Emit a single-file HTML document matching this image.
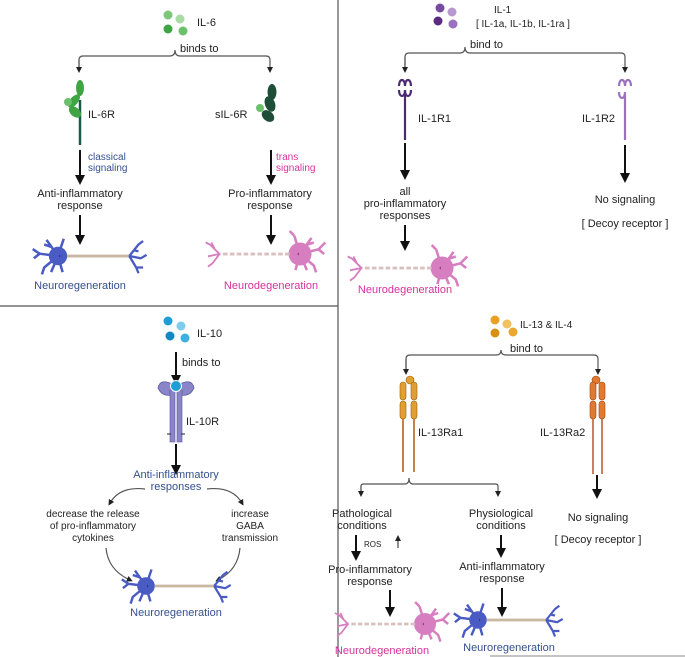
<!DOCTYPE html>
<html><head><meta charset="utf-8"><style>
html,body{margin:0;padding:0;background:#fff}
svg{display:block}
text{font-family:"Liberation Sans",sans-serif;font-size:11px;fill:#222}
.c{text-anchor:middle}
.b{fill:#34508f}.p{fill:#d6329a}
.l{stroke:#555;stroke-width:1.2;fill:none}
.a{stroke:#111;stroke-width:2;fill:none}
</style></head><body>
<svg width="685" height="657" viewBox="0 0 685 657" xmlns="http://www.w3.org/2000/svg">
<defs>
<marker id="m" markerWidth="6" markerHeight="6" refX="3" refY="3" orient="auto" markerUnits="userSpaceOnUse"><path d="M0,0 L6,3 L0,6z" fill="#222"/></marker>
<marker id="M" markerWidth="10" markerHeight="10" refX="5" refY="5" orient="auto" markerUnits="userSpaceOnUse"><path d="M0,0 L10,5 L0,10z" fill="#111"/></marker>
<g id="nb">
<circle cx="0" cy="0" r="8" fill="#4a5bc4"/><circle cx="0" cy="0" r="2" fill="#1b2266"/>
<path d="M0,0 l-10,-14 M-6,-8 l-6,-2 M0,0 l5,-15 M0,0 l-16,-2 l-6,-4 M-16,-2 l-5,4 M0,0 l-12,10 l-2,6 M0,0 l4,14 M0,0 l-6,14" stroke="#4a5bc4" stroke-width="2.2" fill="none"/>
<path d="M8,0 H62" stroke="#c8b8a0" stroke-width="2.5"/>
<path d="M62,0 l8,-10 l4,-3 M66,-5 l4,1 M62,0 l10,2 l5,-3 M62,0 l6,10 l2,5 M68,10 l6,0" stroke="#4a5bc4" stroke-width="2" fill="none"/>
</g>
<g id="np">
<circle cx="0" cy="0" r="10" fill="#d77ec0"/><circle cx="0" cy="0" r="2" fill="#5a1040"/>
<path d="M0,0 l10,-14 M6,-8 l6,-2 M0,0 l-5,-16 M-5,-16 l-4,-4 M0,0 l16,-4 l6,-6 M16,-4 l5,4 M0,0 l12,10 l2,6 M0,0 l-4,14 M0,0 l6,14" stroke="#d77ec0" stroke-width="2.2" fill="none"/>
<path d="M-9,0 H-70" stroke="#d8c0c0" stroke-width="2.5" stroke-dasharray="4 2"/>
<path d="M-70,0 l-8,-8 l-4,-2 M-74,-4 l-3,-6 M-70,0 l-10,2 M-70,0 l-6,8 l-4,3" stroke="#d77ec0" stroke-width="1.6" fill="none"/>
</g>
</defs>
<path d="M338,0 V657" stroke="#555" stroke-width="1.2"/>
<path d="M0,306 H338" stroke="#555" stroke-width="1.2"/>
<path d="M490,656 H685" stroke="#888" stroke-width="1"/>

<!-- TOP LEFT IL-6 -->
<circle cx="168" cy="15" r="4.5" fill="#7cc77a"/><circle cx="180" cy="19" r="4.5" fill="#a8dba5"/>
<circle cx="168" cy="29" r="4.5" fill="#3ea444"/><circle cx="183" cy="31" r="4.5" fill="#6cc06c"/>
<text x="197" y="26">IL-6</text>
<text x="180" y="52">binds to</text>
<path class="l" d="M79,70 V60 Q79,56 83,56 H170 Q175,56 175,50 Q175,56 180,56 H266 Q270,56 270,60 V70" marker-end="url(#m)"/>
<path class="l" d="M79,60 V70" marker-end="url(#m)"/>
<path d="M80,100 V145" stroke="#1d5a4a" stroke-width="2.5"/>
<ellipse cx="80" cy="88" rx="4" ry="8" fill="#3ea444"/><ellipse cx="74" cy="101" rx="4" ry="8" fill="#3ea444" transform="rotate(40 74 101)"/><ellipse cx="75" cy="112" rx="4.5" ry="7" fill="#3ea444" transform="rotate(-50 75 112)"/><circle cx="68" cy="102" r="4" fill="#6cc06c"/>
<text x="88" y="118">IL-6R</text>
<ellipse cx="272" cy="92" rx="4.5" ry="8" fill="#1e4d38"/><ellipse cx="270" cy="104" rx="5" ry="8" fill="#1e4d38" transform="rotate(-20 270 104)"/><ellipse cx="268" cy="116" rx="5" ry="7" fill="#1e4d38" transform="rotate(-50 268 116)"/><circle cx="260" cy="108" r="4" fill="#6cc06c"/>
<text x="215" y="118">sIL-6R</text>
<path class="a" d="M80,150 V180" marker-end="url(#M)"/>
<text x="88" y="160" class="b" style="font-size:10px">classical</text><text x="88" y="171" class="b" style="font-size:10px">signaling</text>
<text x="80" y="197" class="c">Anti-inflammatory</text><text x="80" y="209" class="c">response</text>
<path class="a" d="M80,215 V240" marker-end="url(#M)"/>
<use href="#nb" transform="translate(58,256) scale(1.15)"/>
<text x="80" y="289" class="c b">Neuroregeneration</text>
<path class="a" d="M271,150 V180" marker-end="url(#M)"/>
<text x="276" y="160" class="p" style="font-size:10px">trans</text><text x="276" y="171" class="p" style="font-size:10px">signaling</text>
<text x="270" y="197" class="c">Pro-inflammatory</text><text x="270" y="209" class="c">response</text>
<path class="a" d="M271,215 V240" marker-end="url(#M)"/>
<use href="#np" transform="translate(300,254) scale(1.15)"/>
<text x="271" y="289" class="c p">Neurodegeneration</text>

<!-- TOP RIGHT IL-1 -->
<circle cx="440" cy="8" r="4.5" fill="#7a4aa0"/><circle cx="452" cy="12" r="4.5" fill="#b898d0"/>
<circle cx="438" cy="21" r="4.5" fill="#5a2a80"/><circle cx="453" cy="24" r="4.5" fill="#9a70c0"/>
<text x="494" y="13" style="font-size:10px">IL-1</text>
<text x="476" y="27" style="font-size:10px">[ IL-1a, IL-1b, IL-1ra ]</text>
<text x="470" y="48">bind to</text>
<path class="l" d="M405,70 V57 Q405,53 409,53 H460 Q465,53 465,47 Q465,53 470,53 H621 Q625,53 625,57 V70" marker-end="url(#m)"/>
<path class="l" d="M405,57 V70" marker-end="url(#m)"/>
<path d="M399,86 c0,-8 6,-8 6,0 c0,-8 6,-8 6,0 M399,90 c0,8 6,8 6,0 c0,8 6,8 6,0 M405,95 V140" stroke="#4a2a70" stroke-width="2.2" fill="none"/>
<text x="418" y="122">IL-1R1</text>
<path d="M619,86 c0,-8 6,-8 6,0 c0,-8 6,-8 6,0 M619,92 c0,8 6,8 6,0 M625,95 V140" stroke="#9a70c0" stroke-width="2.2" fill="none"/>
<text x="582" y="122">IL-1R2</text>
<path class="a" d="M405,143 V175" marker-end="url(#M)"/>
<text x="405" y="195" class="c">all</text><text x="405" y="207" class="c">pro-inflammatory</text><text x="405" y="219" class="c">responses</text>
<path class="a" d="M405,225 V246" marker-end="url(#M)"/>
<use href="#np" transform="translate(442,268) scale(1.15)"/>
<text x="405" y="293" class="c p">Neurodegeneration</text>
<path class="a" d="M625,145 V178" marker-end="url(#M)"/>
<text x="625" y="203" class="c">No signaling</text>
<text x="625" y="227" class="c">[ Decoy receptor ]</text>

<!-- BOTTOM LEFT IL-10 -->
<circle cx="168" cy="321" r="4.5" fill="#1f9ed6"/><circle cx="181" cy="326" r="4.5" fill="#7fcbeb"/>
<circle cx="170" cy="336" r="4.5" fill="#1488c4"/><circle cx="185" cy="338" r="4.5" fill="#3db0e0"/>
<text x="197" y="337">IL-10</text>
<path class="a" d="M176,352 V380" marker-end="url(#M)"/>
<text x="182" y="366">binds to</text>
<path d="M158,388 Q160,378 172,384 L172,395 Q162,397 158,388z M194,388 Q192,378 180,384 L180,395 Q190,397 194,388z" fill="#8a85c8" stroke="#5a55a0" stroke-width="0.8"/>
<rect x="170" y="390" width="5" height="52" fill="#8a85c8" stroke="#5a55a0" stroke-width="0.6"/>
<rect x="177" y="390" width="5" height="52" fill="#8a85c8" stroke="#5a55a0" stroke-width="0.6"/>
<circle cx="176" cy="386" r="5.5" fill="#1f9ed6" stroke="#fff" stroke-width="1"/>
<path d="M167,434 h4 M181,434 h4" stroke="#222"/>
<text x="186" y="425">IL-10R</text>
<path class="a" d="M176,444 V470" marker-end="url(#M)"/>
<text x="176" y="478" class="c b">Anti-inflammatory</text><text x="176" y="490" class="c b">responses</text>
<path class="l" d="M145,489 Q120,486 110,503" marker-end="url(#m)"/>
<path class="l" d="M207,489 Q232,486 242,503" marker-end="url(#m)"/>
<text x="93" y="517" class="c" style="font-size:10px">decrease the release</text>
<text x="93" y="529" class="c" style="font-size:10px">of pro-inflammatory</text>
<text x="93" y="541" class="c" style="font-size:10px">cytokines</text>
<text x="250" y="517" class="c" style="font-size:10px">increase</text>
<text x="250" y="529" class="c" style="font-size:10px">GABA</text>
<text x="250" y="541" class="c" style="font-size:10px">transmission</text>
<path class="l" d="M106,548 Q108,570 130,580" marker-end="url(#m)"/>
<path class="l" d="M240,548 Q238,570 218,580" marker-end="url(#m)"/>
<use href="#nb" transform="translate(146,586) scale(1.1)"/>
<text x="176" y="616" class="c b">Neuroregeneration</text>

<!-- BOTTOM RIGHT IL-13 -->
<circle cx="495" cy="320" r="4.5" fill="#e8a020"/><circle cx="507" cy="324" r="4.5" fill="#f2c060"/>
<circle cx="495" cy="333" r="4.5" fill="#d89010"/><circle cx="513" cy="332" r="4.5" fill="#e8a830"/>
<text x="520" y="328" style="font-size:10px">IL-13 &amp; IL-4</text>
<text x="510" y="352">bind to</text>
<path class="l" d="M406,372 V359 Q406,355 410,355 H496 Q501,355 501,350 Q501,355 506,355 H594 Q598,355 598,359 V372" marker-end="url(#m)"/>
<path class="l" d="M406,359 V372" marker-end="url(#m)"/>
<g fill="#e0a030" stroke="#9a6010" stroke-width="0.6">
<circle cx="410" cy="380" r="4"/>
<rect x="400" y="382" width="6" height="18" rx="3"/><rect x="411" y="382" width="6" height="18" rx="3"/>
<rect x="400" y="401" width="6" height="18" rx="3"/><rect x="411" y="401" width="6" height="18" rx="3"/>
</g>
<path d="M403,419 V472 M414,419 V472" stroke="#b86020" stroke-width="1.6"/>
<text x="418" y="436">IL-13Ra1</text>
<g fill="#e07a30" stroke="#a04810" stroke-width="0.6">
<circle cx="596" cy="380" r="4"/>
<rect x="590" y="382" width="6" height="18" rx="3"/><rect x="599" y="382" width="6" height="18" rx="3"/>
<rect x="590" y="401" width="6" height="18" rx="3"/><rect x="599" y="401" width="6" height="18" rx="3"/>
</g>
<path d="M593,419 V474 M602,419 V474" stroke="#c06030" stroke-width="1.6"/>
<text x="540" y="436">IL-13Ra2</text>
<path class="l" d="M361,494 V486 Q361,484 364,484 H405 Q409,484 409,478 Q409,484 413,484 H495 Q498,484 498,486 V494" marker-end="url(#m)"/>
<path class="l" d="M361,486 V494" marker-end="url(#m)"/>
<text x="362" y="517" class="c">Pathological</text><text x="362" y="529" class="c">conditions</text>
<text x="501" y="517" class="c">Physiological</text><text x="501" y="529" class="c">conditions</text>
<path class="a" d="M356,535 V556" marker-end="url(#M)"/>
<text x="364" y="547" style="font-size:8px">ROS</text><path d="M398,548 V538" stroke="#222" stroke-width="1" marker-end="url(#m)"/>
<path class="a" d="M501,535 V553" marker-end="url(#M)"/>
<text x="370" y="573" class="c">Pro-inflammatory</text><text x="370" y="585" class="c">response</text>
<text x="502" y="570" class="c">Anti-inflammatory</text><text x="502" y="582" class="c">response</text>
<path class="a" d="M390,590 V612" marker-end="url(#M)"/>
<path class="a" d="M502,588 V612" marker-end="url(#M)"/>
<use href="#np" transform="translate(425,624) scale(1.1)"/>
<use href="#nb" transform="translate(478,620) scale(1.1)"/>
<text x="382" y="654" class="c p">Neurodegeneration</text>
<text x="509" y="651" class="c b">Neuroregeneration</text>
<path class="a" d="M597,475 V494" marker-end="url(#M)"/>
<text x="598" y="521" class="c">No signaling</text>
<text x="598" y="543" class="c">[ Decoy receptor ]</text>
</svg>
</body></html>
